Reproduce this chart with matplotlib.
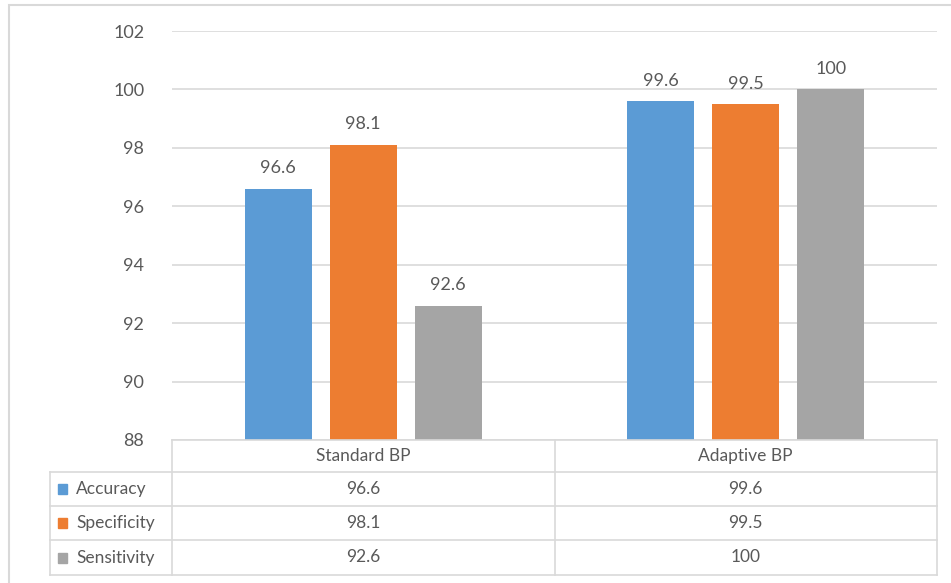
import numpy as np
import matplotlib.pyplot as plt
from matplotlib.patches import Rectangle

plt.rcParams['font.family'] = ['Lato', 'DejaVu Sans']

# data
categories = ['Standard BP', 'Adaptive BP']
series_names = ['Accuracy', 'Specificity', 'Sensitivity']
accuracy = [96.6, 99.6]
specificity = [98.1, 99.5]
sensitivity = [92.6, 100]
values = [accuracy, specificity, sensitivity]
colors = ['#5B9BD5', '#ED7D31', '#A5A5A5']
yticks = [88, 90, 92, 94, 96, 98, 100, 102]

W, H = 951, 583
txt = '#595959'
grid = '#D9D9D9'

fig = plt.figure(figsize=(W / 100, H / 100), dpi=100)
fig.patches.append(Rectangle((9 / W, -0.05), 1, 1.05 - 5 / H, transform=fig.transFigure,
                             fill=False, edgecolor=grid, lw=1.5))

ax = fig.add_axes([172 / W, (H - 440) / H, 765 / W, 409 / H])
x = np.arange(len(categories))
bw = 0.175
step = 0.222
for i, (name, vals) in enumerate(zip(series_names, values)):
    pos = x + (i - 1) * step
    ax.bar(pos, np.array(vals) - 88, bw, bottom=88, color=colors[i], zorder=3)
    for p, v in zip(pos, vals):
        ax.annotate('%g' % v, (p, v), xytext=(0, 9), textcoords='offset points',
                    ha='center', va='bottom', fontsize=13, color=txt)

ax.set_xlim(-0.5, 1.5)
ax.set_ylim(88, 102)
ax.set_yticks(yticks)
ax.set_yticklabels([str(t) for t in yticks], fontsize=13, color=txt)
ax.tick_params(axis='y', length=0, pad=20)
ax.set_xticks([])
ax.grid(axis='y', color=grid, lw=1.2, zorder=0)
for s in ax.spines.values():
    s.set_visible(False)

# data table
tab = fig.add_axes([172 / W, (H - 575) / H, 765 / W, 135 / H])
tab.set_xlim(-0.5, 1.5)
tab.set_ylim(135, 0)
tab.axis('off')
row_edges = [0, 32, 66, 100, 135]
left = -0.5 - 122 / 383
lc = dict(color=grid, lw=1.2, clip_on=False)
tab.plot([-0.5, 1.5], [0, 0], **lc)
for r in row_edges[1:]:
    tab.plot([left, 1.5], [r, r], **lc)
tab.plot([left, left], [32, 135], **lc)
tab.plot([-0.5, -0.5], [0, 135], **lc)
tab.plot([0.5, 0.5], [0, 135], **lc)
tab.plot([1.5, 1.5], [0, 135], **lc)

for j, c in enumerate(categories):
    tab.text(j, 16, c, ha='center', va='center', fontsize=12.5, color=txt)
for i, (name, vals) in enumerate(zip(series_names, values)):
    yc = (row_edges[i + 1] + row_edges[i + 2]) / 2
    tab.add_patch(Rectangle((-0.5 - 114 / 383, yc - 5), 9 / 383, 10, color=colors[i], clip_on=False))
    tab.text(-0.5 - 96 / 383, yc, name, ha='left', va='center', fontsize=12.5, color=txt)
    for j, v in enumerate(vals):
        tab.text(j, yc, '%g' % v, ha='center', va='center', fontsize=12.5, color=txt)

fig.savefig('out.png', dpi=100)
